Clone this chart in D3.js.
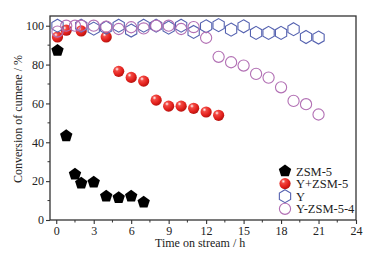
<!DOCTYPE html>
<html>
<head>
<meta charset="utf-8">
<script src="https://cdn.jsdelivr.net/npm/d3@7"></script>
<style>
  body { margin: 0; background: #fff; }
  svg text { font-family: "Liberation Serif", "DejaVu Serif", serif; fill: #222; }
</style>
</head>
<body>
<div class="chart"></div>
<script>
const WIDTH = 376;
const HEIGHT = 259;
const MARGIN = {TOP: 16, BOTTOM: 39, RIGHT: 20, LEFT: 50};

// data
const zsmTime = [0.1, 0.8, 1.5, 2, 3, 4, 5, 6, 7];
const zsmConv = [87.2, 43.3, 23.5, 18.9, 19.4, 12.2, 11.5, 12.2, 9.1];

const mixTime = [0.1, 0.8, 2, 4, 5, 6, 7, 8, 9, 10, 11, 12, 13];
const mixConv = [94.2, 97.7, 97.3, 94.2, 76.5, 73.4, 71.5, 61.7, 58.6, 58.6, 57.5, 55.6, 53.9];

const yTime = [0.1, 2, 3, 4, 5, 6, 7, 8, 9, 10, 11, 12, 13, 14, 15, 16, 17, 18, 19, 20, 21];
const yConv = [100, 100, 98.5, 99, 100, 97.5, 100, 100, 99, 100, 96.8, 99.7, 100.3, 98, 99.7, 96.3, 96.3, 96.3, 98.2, 94.2, 93.9];

const compTime = [0.1, 0.8, 1.5, 2, 3, 4, 5, 6, 7, 8, 9, 10, 11, 12, 13, 14, 15, 16, 17, 18, 19, 20, 21];
const compConv = [97, 100, 100, 100, 100, 99.5, 98.3, 99.2, 98.6, 100, 100, 98.3, 99.3, 93.8, 84, 81.2, 79.5, 75.2, 73.3, 68.3, 61.3, 59.6, 54.3];

const legendNames = ['ZSM-5', 'Y+ZSM-5', 'Y', 'Y-ZSM-5-4'];
const xTicks = [0, 3, 6, 9, 12, 15, 18, 21, 24];
const yTicks = [0, 20, 40, 60, 80, 100];

const innerWidth = WIDTH - MARGIN.LEFT - MARGIN.RIGHT;
const innerHeight = HEIGHT - MARGIN.TOP - MARGIN.BOTTOM;

var xScale = d3.scaleLinear().domain([-0.5, 24]).range([0, innerWidth]);
var yScale = d3.scaleLinear().domain([0, 105]).range([innerHeight, 0]);

// custom marker shapes
function polygon(n, rot) {
    return {
        draw: function (ctx, size) {
            var r = Math.sqrt(size / Math.PI) * 1.1;
            for (var i = 0; i < n; i++) {
                var a = rot + i * 2 * Math.PI / n;
                var px = r * Math.sin(a), py = -r * Math.cos(a);
                if (i === 0) ctx.moveTo(px, py); else ctx.lineTo(px, py);
            }
            ctx.closePath();
        }
    };
}
var pentagon = polygon(5, 0);
var hexagon = polygon(6, 0);

var svg = d3.select('.chart').append('svg')
    .attr('width', WIDTH)
    .attr('height', HEIGHT);

var defs = svg.append('defs');
var grad = defs.append('radialGradient')
    .attr('id', 'ball')
    .attr('cx', '35%').attr('cy', '30%').attr('r', '70%');
grad.append('stop').attr('offset', '0%').attr('stop-color', '#ffffff');
grad.append('stop').attr('offset', '25%').attr('stop-color', '#f24a44');
grad.append('stop').attr('offset', '70%').attr('stop-color', '#e3201c');
grad.append('stop').attr('offset', '100%').attr('stop-color', '#b81410');

var mainGroup = svg.append('g')
    .attr('transform', 'translate(' + MARGIN.LEFT + ',' + MARGIN.TOP + ')');

// axes
var xAxis = d3.axisBottom(xScale).tickValues(xTicks).tickSizeOuter(0).tickSize(4).tickPadding(2);
var yAxis = d3.axisLeft(yScale).tickValues(yTicks).tickSizeOuter(0).tickSize(4).tickPadding(2);

var xAxisG = mainGroup.append('g')
    .attr('transform', 'translate(0,' + innerHeight + ')')
    .call(xAxis);
var yAxisG = mainGroup.append('g').call(yAxis);

// minor ticks
xAxisG.selectAll('.minor')
    .data(d3.range(1.5, 24, 3))
    .enter().append('line')
    .attr('x1', d => xScale(d)).attr('x2', d => xScale(d))
    .attr('y1', 0).attr('y2', 2.5)
    .attr('stroke', '#333');
yAxisG.selectAll('.minor')
    .data(d3.range(10, 105, 20))
    .enter().append('line')
    .attr('y1', d => yScale(d)).attr('y2', d => yScale(d))
    .attr('x1', 0).attr('x2', -2.5)
    .attr('stroke', '#333');

svg.selectAll('.tick line').attr('stroke', '#333').attr('stroke-width', 1.1);
svg.selectAll('.tick text')
    .style('font-size', '12px')
    .style('font-family', '"Liberation Serif", serif')
    .attr('fill', '#222');
svg.selectAll('.domain').attr('stroke', 'none');

// frame
mainGroup.append('rect')
    .attr('x', 0).attr('y', 0)
    .attr('width', innerWidth).attr('height', innerHeight)
    .attr('fill', 'none')
    .attr('stroke', '#333')
    .attr('stroke-width', 1.3);

// axis titles
svg.append('text')
    .attr('x', MARGIN.LEFT + xScale(12) - 6)
    .attr('y', 247)
    .attr('text-anchor', 'middle')
    .style('font-size', '12px')
    .text('Time on stream / h');

svg.append('text')
    .attr('transform', 'translate(22,' + (MARGIN.TOP + yScale(52)) + ') rotate(-90)')
    .attr('text-anchor', 'middle')
    .style('font-size', '12px')
    .text('Conversion of cumene / %');

// series
var plot = mainGroup.append('g');

plot.selectAll('.zsm')
    .data(d3.zip(zsmTime, zsmConv))
    .enter().append('path')
    .attr('d', d3.symbol().type(pentagon).size(110))
    .attr('transform', d => 'translate(' + xScale(d[0]) + ',' + yScale(d[1]) + ')')
    .attr('fill', '#000');

plot.selectAll('.mix')
    .data(d3.zip(mixTime, mixConv))
    .enter().append('circle')
    .attr('cx', d => xScale(d[0]))
    .attr('cy', d => yScale(d[1]))
    .attr('r', 5.6)
    .attr('fill', 'url(#ball)');

plot.selectAll('.ycat')
    .data(d3.zip(yTime, yConv))
    .enter().append('path')
    .attr('d', d3.symbol().type(hexagon).size(110))
    .attr('transform', d => 'translate(' + xScale(d[0]) + ',' + yScale(d[1]) + ')')
    .attr('fill', 'none')
    .attr('stroke', '#5562b0')
    .attr('stroke-width', 1.1);

plot.selectAll('.comp')
    .data(d3.zip(compTime, compConv))
    .enter().append('circle')
    .attr('cx', d => xScale(d[0]))
    .attr('cy', d => yScale(d[1]))
    .attr('r', 5.6)
    .attr('fill', 'none')
    .attr('stroke', '#b270b4')
    .attr('stroke-width', 1.1);

// legend
var legend = svg.append('g').attr('transform', 'translate(285,171)');
var rows = legend.selectAll('g')
    .data(legendNames)
    .enter().append('g')
    .attr('transform', (d, i) => 'translate(0,' + (i * 12.6) + ')');

rows.each(function (d, i) {
    var g = d3.select(this);
    if (i === 0) {
        g.append('path').attr('d', d3.symbol().type(pentagon).size(110)).attr('fill', '#000');
    } else if (i === 1) {
        g.append('circle').attr('r', 5.6).attr('fill', 'url(#ball)');
    } else if (i === 2) {
        g.append('path').attr('d', d3.symbol().type(hexagon).size(110))
            .attr('fill', 'none').attr('stroke', '#5562b0').attr('stroke-width', 1.1);
    } else {
        g.append('circle').attr('r', 5.6)
            .attr('fill', 'none').attr('stroke', '#b270b4').attr('stroke-width', 1.1);
    }
    g.append('text')
        .attr('x', 11).attr('y', 4.5)
        .style('font-size', '12.5px')
        .text(d);
});
</script>
</body>
</html>
